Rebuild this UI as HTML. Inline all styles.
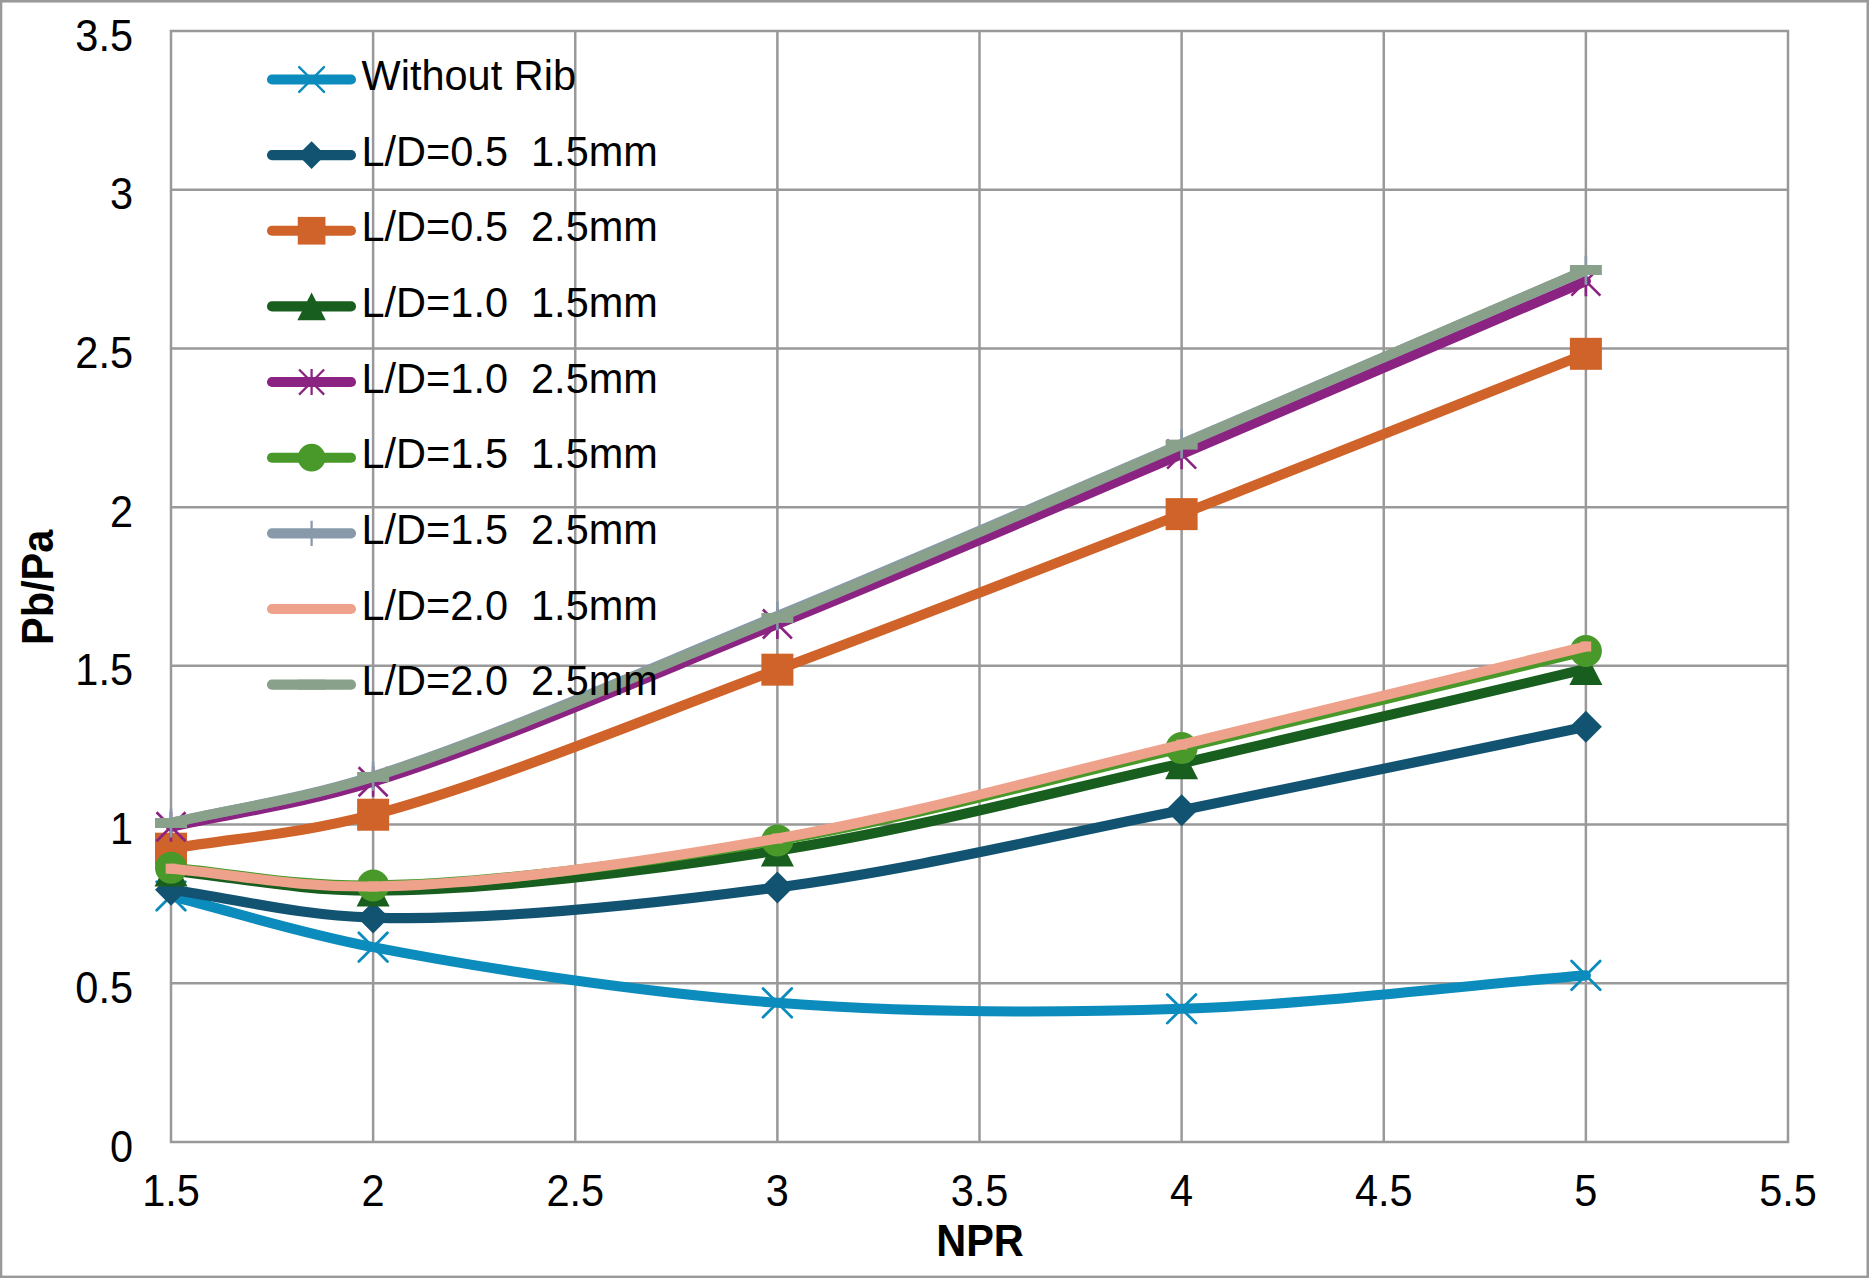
<!DOCTYPE html>
<html><head><meta charset="utf-8"><title>Pb/Pa vs NPR</title>
<style>
html,body{margin:0;padding:0;background:#fff;}
body{width:1869px;height:1278px;overflow:hidden;}
svg{display:block;font-family:"Liberation Sans",sans-serif;}
text{fill:#000;white-space:pre;}
</style></head><body>
<svg width="1869" height="1278" viewBox="0 0 1869 1278">
<rect x="0" y="0" width="1869" height="1278" fill="#999999"/>
<rect x="2.3" y="2.55" width="1864.2" height="1273.05" fill="#fff"/>
<path d="M171 31V1142M373.12 31V1142M575.25 31V1142M777.38 31V1142M979.5 31V1142M1181.62 31V1142M1383.75 31V1142M1585.88 31V1142M1788 31V1142M171 1142H1788M171 983.29H1788M171 824.57H1788M171 665.86H1788M171 507.14H1788M171 348.43H1788M171 189.71H1788M171 31H1788" stroke="#999999" stroke-width="2.5" fill="none" stroke-linecap="square"/>
<text transform="translate(133 1161.6) scale(1 1.066)" font-size="41.5" text-anchor="end" xml:space="preserve">0</text>
<text transform="translate(133 1002.89) scale(1 1.066)" font-size="41.5" text-anchor="end" xml:space="preserve">0.5</text>
<text transform="translate(133 844.17) scale(1 1.066)" font-size="41.5" text-anchor="end" xml:space="preserve">1</text>
<text transform="translate(133 685.46) scale(1 1.066)" font-size="41.5" text-anchor="end" xml:space="preserve">1.5</text>
<text transform="translate(133 526.74) scale(1 1.066)" font-size="41.5" text-anchor="end" xml:space="preserve">2</text>
<text transform="translate(133 368.03) scale(1 1.066)" font-size="41.5" text-anchor="end" xml:space="preserve">2.5</text>
<text transform="translate(133 209.31) scale(1 1.066)" font-size="41.5" text-anchor="end" xml:space="preserve">3</text>
<text transform="translate(133 50.6) scale(1 1.066)" font-size="41.5" text-anchor="end" xml:space="preserve">3.5</text>
<text transform="translate(171 1206) scale(1 1.066)" font-size="41.5" text-anchor="middle" xml:space="preserve">1.5</text>
<text transform="translate(373.12 1206) scale(1 1.066)" font-size="41.5" text-anchor="middle" xml:space="preserve">2</text>
<text transform="translate(575.25 1206) scale(1 1.066)" font-size="41.5" text-anchor="middle" xml:space="preserve">2.5</text>
<text transform="translate(777.38 1206) scale(1 1.066)" font-size="41.5" text-anchor="middle" xml:space="preserve">3</text>
<text transform="translate(979.5 1206) scale(1 1.066)" font-size="41.5" text-anchor="middle" xml:space="preserve">3.5</text>
<text transform="translate(1181.62 1206) scale(1 1.066)" font-size="41.5" text-anchor="middle" xml:space="preserve">4</text>
<text transform="translate(1383.75 1206) scale(1 1.066)" font-size="41.5" text-anchor="middle" xml:space="preserve">4.5</text>
<text transform="translate(1585.88 1206) scale(1 1.066)" font-size="41.5" text-anchor="middle" xml:space="preserve">5</text>
<text transform="translate(1788 1206) scale(1 1.066)" font-size="41.5" text-anchor="middle" xml:space="preserve">5.5</text>
<text transform="translate(980 1256) scale(1 1.053)" font-size="41.5" text-anchor="middle" font-weight="bold" xml:space="preserve">NPR</text>
<text transform="translate(53 587.3) rotate(-90) scale(1 1.053)" font-size="41.5" text-anchor="middle" font-weight="bold" xml:space="preserve">Pb/Pa</text>
<g><path d="M171 895.99C238.38 913.03 293.69 931.63 373.12 947.1C484.26 968.74 642.31 992.54 777.38 1002.81C911.81 1013.02 1046.99 1013.34 1181.62 1008.78C1316.49 1004.21 1451.12 986.49 1585.88 975.35" stroke="#0C8CBC" stroke-width="10.1" fill="none" stroke-linecap="round" stroke-linejoin="round"/><path d="M156.65 881.64L185.35 910.34M156.65 910.34L185.35 881.64" stroke="#0C8CBC" stroke-width="2.8" stroke-linecap="round" fill="none"/><path d="M358.77 932.75L387.48 961.45M358.77 961.45L387.48 932.75" stroke="#0C8CBC" stroke-width="2.8" stroke-linecap="round" fill="none"/><path d="M763.02 988.46L791.73 1017.16M763.02 1017.16L791.73 988.46" stroke="#0C8CBC" stroke-width="2.8" stroke-linecap="round" fill="none"/><path d="M1167.28 994.43L1195.97 1023.13M1167.28 1023.13L1195.97 994.43" stroke="#0C8CBC" stroke-width="2.8" stroke-linecap="round" fill="none"/><path d="M1571.53 961L1600.22 989.7M1571.53 989.7L1600.22 961" stroke="#0C8CBC" stroke-width="2.8" stroke-linecap="round" fill="none"/></g>
<g><path d="M171 889.64C238.38 898.96 294.04 915.09 373.12 917.58C484.6 921.08 643.13 905.18 777.38 887.42C912.64 869.53 1046.98 837.04 1181.62 810.29C1316.48 783.5 1451.12 754.63 1585.88 726.8" stroke="#125372" stroke-width="10.1" fill="none" stroke-linecap="round" stroke-linejoin="round"/><path d="M171 873.64L187 889.64L171 905.64L155 889.64Z" fill="#125372"/><path d="M373.12 901.58L389.12 917.58L373.12 933.58L357.12 917.58Z" fill="#125372"/><path d="M777.38 871.42L793.38 887.42L777.38 903.42L761.38 887.42Z" fill="#125372"/><path d="M1181.62 794.29L1197.62 810.29L1181.62 826.29L1165.62 810.29Z" fill="#125372"/><path d="M1585.88 710.8L1601.88 726.8L1585.88 742.8L1569.88 726.8Z" fill="#125372"/></g>
<g><path d="M171 848.7C238.38 837.37 295.25 835.07 373.12 814.73C485.86 785.28 642.91 719.65 777.38 669.67C912.41 619.47 1047.01 566.71 1181.62 514.13C1316.51 461.43 1451.12 407.26 1585.88 353.82" stroke="#D06329" stroke-width="10.1" fill="none" stroke-linecap="round" stroke-linejoin="round"/><rect x="155" y="832.7" width="32" height="32" fill="#D06329"/><rect x="357.12" y="798.73" width="32" height="32" fill="#D06329"/><rect x="761.38" y="653.67" width="32" height="32" fill="#D06329"/><rect x="1165.62" y="498.13" width="32" height="32" fill="#D06329"/><rect x="1569.88" y="337.82" width="32" height="32" fill="#D06329"/></g>
<g><path d="M171 870.6C238.38 877.26 294.19 890.6 373.12 890.6C484.76 890.6 643.22 871.65 777.38 850.6C912.73 829.36 1047 793.54 1181.62 763.31C1316.5 733.02 1451.12 700.46 1585.88 669.03" stroke="#185E1E" stroke-width="10.1" fill="none" stroke-linecap="round" stroke-linejoin="round"/><path d="M171 854.6L187.5 886.6L154.5 886.6Z" fill="#185E1E"/><path d="M373.12 874.6L389.62 906.6L356.62 906.6Z" fill="#185E1E"/><path d="M777.38 834.6L793.88 866.6L760.88 866.6Z" fill="#185E1E"/><path d="M1181.62 747.31L1198.12 779.31L1165.12 779.31Z" fill="#185E1E"/><path d="M1585.88 653.03L1602.38 685.03L1569.38 685.03Z" fill="#185E1E"/></g>
<g><path d="M171 826.79C238.38 811.77 295.24 805.45 373.12 781.72C485.86 747.37 642.97 678.4 777.38 623.96C912.48 569.23 1046.97 511.23 1181.62 454.13C1316.47 396.96 1451.12 338.8 1585.88 281.13" stroke="#8B2382" stroke-width="10.1" fill="none" stroke-linecap="round" stroke-linejoin="round"/><path d="M156.5 812.29L185.5 841.29M156.5 841.29L185.5 812.29M171 811.79L171 841.79" stroke="#8B2382" stroke-width="2.6" fill="none"/><path d="M358.62 767.22L387.62 796.22M358.62 796.22L387.62 767.22M373.12 766.72L373.12 796.72" stroke="#8B2382" stroke-width="2.6" fill="none"/><path d="M762.88 609.46L791.88 638.46M762.88 638.46L791.88 609.46M777.38 608.96L777.38 638.96" stroke="#8B2382" stroke-width="2.6" fill="none"/><path d="M1167.12 439.63L1196.12 468.63M1167.12 468.63L1196.12 439.63M1181.62 439.13L1181.62 469.13" stroke="#8B2382" stroke-width="2.6" fill="none"/><path d="M1571.38 266.63L1600.38 295.63M1571.38 295.63L1600.38 266.63M1585.88 266.13L1585.88 296.13" stroke="#8B2382" stroke-width="2.6" fill="none"/></g>
<g><path d="M171 867.74C238.38 873.67 294.24 886.44 373.12 885.52C484.81 884.22 643.27 863.17 777.38 840.44C912.78 817.5 1046.96 779.63 1181.62 748.07C1316.46 716.47 1451.12 683.32 1585.88 650.94" stroke="#48992A" stroke-width="10.1" fill="none" stroke-linecap="round" stroke-linejoin="round"/><circle cx="171" cy="867.74" r="16" fill="#48992A"/><circle cx="373.12" cy="885.52" r="16" fill="#48992A"/><circle cx="777.38" cy="840.44" r="16" fill="#48992A"/><circle cx="1181.62" cy="748.07" r="16" fill="#48992A"/><circle cx="1585.88" cy="650.94" r="16" fill="#48992A"/></g>
<g><path d="M171 822.98C238.38 807.43 295.25 800.6 373.12 776.32C485.87 741.17 642.97 671.26 777.38 616.02C912.47 560.5 1046.92 501.57 1181.62 443.97C1316.42 386.34 1451.12 328.22 1585.88 270.34" stroke="#889AAA" stroke-width="10.1" fill="none" stroke-linecap="round" stroke-linejoin="round"/><path d="M156.5 822.98L185.5 822.98M171 808.48L171 837.48" stroke="#889AAA" stroke-width="2.6" fill="none"/><path d="M358.62 776.32L387.62 776.32M373.12 761.82L373.12 790.82" stroke="#889AAA" stroke-width="2.6" fill="none"/><path d="M762.88 616.02L791.88 616.02M777.38 601.52L777.38 630.52" stroke="#889AAA" stroke-width="2.6" fill="none"/><path d="M1167.12 443.97L1196.12 443.97M1181.62 429.47L1181.62 458.47" stroke="#889AAA" stroke-width="2.6" fill="none"/><path d="M1571.38 270.34L1600.38 270.34M1585.88 255.84L1585.88 284.84" stroke="#889AAA" stroke-width="2.6" fill="none"/></g>
<g><path d="M171 868.69C238.38 874.62 294.26 887.66 373.12 886.47C484.83 884.78 643.27 862 777.38 838.54C912.78 814.85 1046.95 776.57 1181.62 744.58C1316.45 712.55 1451.12 679.19 1585.88 646.49" stroke="#EFA28B" stroke-width="10.1" fill="none" stroke-linecap="round" stroke-linejoin="round"/><rect x="165.67" y="863.69" width="10.67" height="10" fill="#EFA28B"/><rect x="367.79" y="881.47" width="10.67" height="10" fill="#EFA28B"/><rect x="772.04" y="833.54" width="10.67" height="10" fill="#EFA28B"/><rect x="1176.29" y="739.58" width="10.67" height="10" fill="#EFA28B"/><rect x="1580.54" y="641.49" width="10.67" height="10" fill="#EFA28B"/></g>
<g><path d="M171 822.98C238.38 807.64 295.25 800.99 373.12 776.96C485.86 742.16 643.04 673.13 777.38 617.93C912.55 562.38 1046.91 502.58 1181.62 444.61C1316.41 386.61 1451.12 328.22 1585.88 270.02" stroke="#89A08A" stroke-width="10.1" fill="none" stroke-linecap="round" stroke-linejoin="round"/><rect x="155" y="817.98" width="32" height="10" fill="#89A08A"/><rect x="357.12" y="771.96" width="32" height="10" fill="#89A08A"/><rect x="761.38" y="612.93" width="32" height="10" fill="#89A08A"/><rect x="1165.62" y="439.61" width="32" height="10" fill="#89A08A"/><rect x="1569.88" y="265.02" width="32" height="10" fill="#89A08A"/></g>
<g><path d="M272 79.45H351" stroke="#0C8CBC" stroke-width="10.1" stroke-linecap="round" fill="none"/><path d="M299.19 67.04L324.01 91.86M299.19 91.86L324.01 67.04" stroke="#0C8CBC" stroke-width="2.42" stroke-linecap="round" fill="none"/><text transform="translate(361.5 89.95) scale(1 1.045)" font-size="41.5" text-anchor="start" xml:space="preserve">Without Rib</text>
</g>
<g><path d="M272 155.1H351" stroke="#125372" stroke-width="10.1" stroke-linecap="round" fill="none"/><path d="M311.6 141.26L325.44 155.1L311.6 168.94L297.76 155.1Z" fill="#125372"/><text transform="translate(361.5 165.6) scale(1 1.045)" font-size="41.5" text-anchor="start" xml:space="preserve">L/D=0.5  1.5mm</text>
</g>
<g><path d="M272 230.75H351" stroke="#D06329" stroke-width="10.1" stroke-linecap="round" fill="none"/><rect x="297.76" y="216.91" width="27.68" height="27.68" fill="#D06329"/><text transform="translate(361.5 241.25) scale(1 1.045)" font-size="41.5" text-anchor="start" xml:space="preserve">L/D=0.5  2.5mm</text>
</g>
<g><path d="M272 306.4H351" stroke="#185E1E" stroke-width="10.1" stroke-linecap="round" fill="none"/><path d="M311.6 292.56L325.87 320.24L297.33 320.24Z" fill="#185E1E"/><text transform="translate(361.5 316.9) scale(1 1.045)" font-size="41.5" text-anchor="start" xml:space="preserve">L/D=1.0  1.5mm</text>
</g>
<g><path d="M272 382.05H351" stroke="#8B2382" stroke-width="10.1" stroke-linecap="round" fill="none"/><path d="M299.06 369.51L324.14 394.59M299.06 394.59L324.14 369.51M311.6 369.07L311.6 395.03" stroke="#8B2382" stroke-width="2.25" fill="none"/><text transform="translate(361.5 392.55) scale(1 1.045)" font-size="41.5" text-anchor="start" xml:space="preserve">L/D=1.0  2.5mm</text>
</g>
<g><path d="M272 457.7H351" stroke="#48992A" stroke-width="10.1" stroke-linecap="round" fill="none"/><circle cx="311.6" cy="457.7" r="13.84" fill="#48992A"/><text transform="translate(361.5 468.2) scale(1 1.045)" font-size="41.5" text-anchor="start" xml:space="preserve">L/D=1.5  1.5mm</text>
</g>
<g><path d="M272 533.35H351" stroke="#889AAA" stroke-width="10.1" stroke-linecap="round" fill="none"/><path d="M299.06 533.35L324.14 533.35M311.6 520.81L311.6 545.89" stroke="#889AAA" stroke-width="2.25" fill="none"/><text transform="translate(361.5 543.85) scale(1 1.045)" font-size="41.5" text-anchor="start" xml:space="preserve">L/D=1.5  2.5mm</text>
</g>
<g><path d="M272 609H351" stroke="#EFA28B" stroke-width="10.1" stroke-linecap="round" fill="none"/><rect x="306.99" y="604" width="9.23" height="10" fill="#EFA28B"/><text transform="translate(361.5 619.5) scale(1 1.045)" font-size="41.5" text-anchor="start" xml:space="preserve">L/D=2.0  1.5mm</text>
</g>
<g><path d="M272 684.65H351" stroke="#89A08A" stroke-width="10.1" stroke-linecap="round" fill="none"/><rect x="297.76" y="679.65" width="27.68" height="10" fill="#89A08A"/><text transform="translate(361.5 695.15) scale(1 1.045)" font-size="41.5" text-anchor="start" xml:space="preserve">L/D=2.0  2.5mm</text>
</g>
</svg></body></html>
